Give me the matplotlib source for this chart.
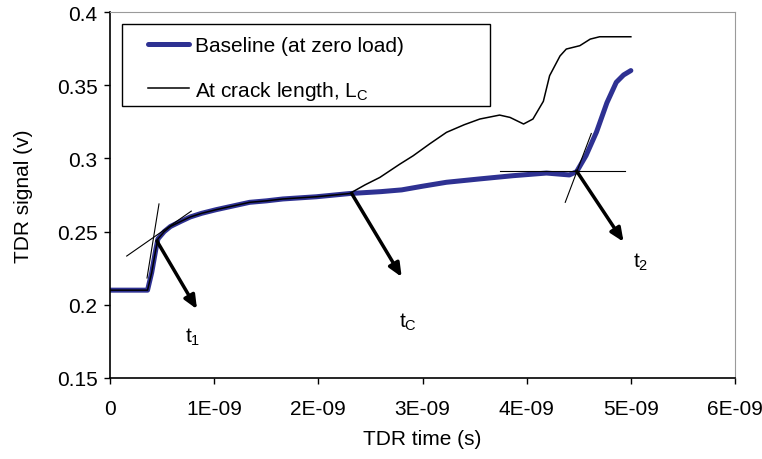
import matplotlib
matplotlib.use("Agg")
import matplotlib.pyplot as plt
from matplotlib.patches import Rectangle

plt.rcParams['font.family'] = ['Liberation Sans', 'DejaVu Sans']
plt.rcParams['mathtext.default'] = 'regular'

# Curva base (sin carga), tiempo en nanosegundos
base_t = [0, 0.36, 0.40, 0.44, 0.46, 0.52, 0.58, 0.68, 0.77, 0.88, 1.02,
          1.18, 1.34, 1.5, 1.66, 1.98, 2.3, 2.6, 2.8, 3.0, 3.23, 3.55, 3.87,
          4.19, 4.41, 4.48, 4.57, 4.67, 4.77, 4.86, 4.93, 5.0]
base_v = [0.210, 0.210, 0.222, 0.238, 0.245, 0.250, 0.2535, 0.257, 0.260,
          0.2625, 0.265, 0.2675, 0.270, 0.271, 0.2723, 0.2738, 0.276, 0.2773,
          0.2785, 0.281, 0.2837, 0.286, 0.2882, 0.290, 0.2887, 0.291, 0.302,
          0.318, 0.338, 0.352, 0.357, 0.360]

# Curva con longitud de grieta Lc
crack_t = [0, 0.36, 0.40, 0.44, 0.46, 0.52, 0.58, 0.68, 0.77, 0.88, 1.02,
           1.18, 1.34, 1.5, 1.66, 1.98, 2.3, 2.45, 2.59, 2.78, 2.91, 3.07,
           3.23, 3.4, 3.55, 3.74, 3.84, 3.97, 4.06, 4.16, 4.22, 4.32, 4.38,
           4.51, 4.61, 4.70, 5.0]
crack_v = [0.210, 0.210, 0.222, 0.238, 0.245, 0.250, 0.2535, 0.257, 0.260,
           0.2625, 0.265, 0.2675, 0.270, 0.271, 0.2723, 0.2738, 0.276, 0.282,
           0.287, 0.296, 0.3018, 0.310, 0.3178, 0.323, 0.3269, 0.3296, 0.328,
           0.3235, 0.3269, 0.339, 0.3565, 0.370, 0.3747, 0.377, 0.3815,
           0.3831, 0.3831]

# Tangentes (x en ns, y en V)
tang1_a = ([0.16, 0.78], [0.2333, 0.264])
tang1_b = ([0.355, 0.47], [0.2183, 0.2689])
tang2_a = ([3.74, 4.94], [0.2913, 0.2913])
tang2_b = ([4.37, 4.62], [0.270, 0.317])

# Flechas: inicio, fin, posición de la etiqueta, etiqueta
flechas = [
    ((0.45, 0.2436), (0.835, 0.197), (0.79, 0.1787), 't$_1$'),
    ((2.32, 0.2760), (2.80, 0.219), (2.86, 0.189), 't$_C$'),
    ((4.48, 0.2913), (4.93, 0.243), (5.09, 0.230), 't$_2$'),
]

x_ticks = [0, 1, 2, 3, 4, 5, 6]
x_labels = ['0', '1E-09', '2E-09', '3E-09', '4E-09', '5E-09', '6E-09']
y_ticks = [0.15, 0.2, 0.25, 0.3, 0.35, 0.4]
y_labels = ['0.15', '0.2', '0.25', '0.3', '0.35', '0.4']

FS = 15


def main():
    fig = plt.figure(figsize=(7.62, 4.6), dpi=100)
    ax = fig.add_axes([0.1444, 0.1761, 0.8202, 0.7956])

    ns = 1e-9
    bt = [t * ns for t in base_t]
    ct = [t * ns for t in crack_t]
    ax.plot(bt, base_v, color='#2E3192', lw=3.6, solid_capstyle='round',
            solid_joinstyle='round', label='Baseline (at zero load)', zorder=2)
    ax.plot(ct, crack_v, color='black', lw=1.1,
            label='At crack length, L$_C$', zorder=3)

    for xs, ys in (tang1_a, tang1_b, tang2_a, tang2_b):
        ax.plot([x * ns for x in xs], ys, color='black', lw=0.8, zorder=4)

    for ini, fin, pos_txt, txt in flechas:
        ax.annotate('', xy=(fin[0] * ns, fin[1]), xytext=(ini[0] * ns, ini[1]),
                    arrowprops=dict(arrowstyle='-|>,head_length=0.8,head_width=0.35',
                                    color='black', lw=2.5, shrinkA=0, shrinkB=0),
                    zorder=5)
        ax.text(pos_txt[0] * ns, pos_txt[1], txt, fontsize=FS,
                ha='center', va='center')

    ax.set_xlim(0, 6e-9)
    ax.set_ylim(0.15, 0.4)
    ax.set_xticks([t * ns for t in x_ticks])
    ax.set_xticklabels(x_labels)
    ax.set_yticks(y_ticks)
    ax.set_yticklabels(y_labels)
    ax.tick_params(direction='out', length=4, width=1, labelsize=FS)
    ax.tick_params(axis='x', pad=11)
    ax.tick_params(axis='y', pad=5)

    ax.spines['top'].set_color('#9a9a9a')
    ax.spines['right'].set_color('#9a9a9a')
    ax.spines['left'].set_linewidth(1.2)
    ax.spines['bottom'].set_linewidth(1.2)

    ax.set_xlabel('TDR time (s)', fontsize=FS, labelpad=8)
    ax.set_ylabel('TDR signal (v)', fontsize=FS, labelpad=17)

    # Marco de la leyenda dibujado aparte
    ax.add_patch(Rectangle((0.0192, 0.743), 0.589, 0.224, transform=ax.transAxes,
                           facecolor='white', edgecolor='black', lw=1.0,
                           zorder=6))
    leg = ax.legend(loc='upper left', bbox_to_anchor=(0.0608, 0.935),
                    fontsize=FS, frameon=False, handlelength=1.97,
                    handletextpad=0.29, borderpad=0, labelspacing=1.15,
                    borderaxespad=0)
    leg.set_zorder(7)

    fig.savefig('out.png', dpi=100)


if __name__ == "__main__":
    main()
